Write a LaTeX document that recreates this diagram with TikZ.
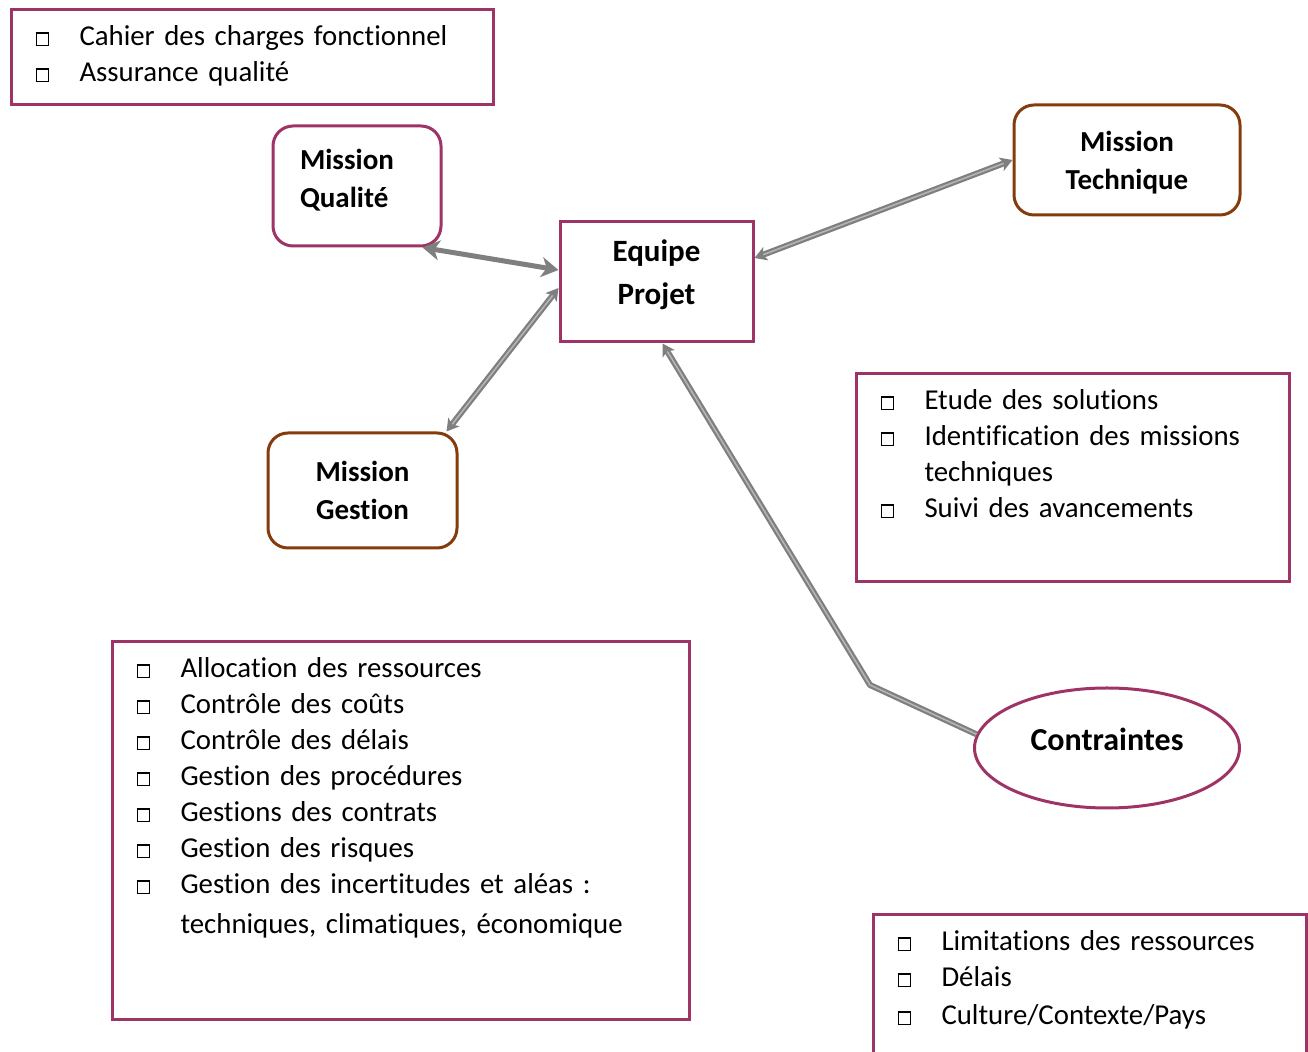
\documentclass[tikz,border=0pt]{standalone}
\usepackage{fontspec}
\setmainfont{Carlito}[Ligatures=NoCommon]
\usetikzlibrary{arrows.meta,positioning,calc,shapes.geometric}
\definecolor{Prune}{HTML}{9E3366}
\definecolor{Brique}{HTML}{843C0C}
\definecolor{Fleche}{HTML}{7F7F7F}
\definecolor{FlecheClair}{HTML}{B4B4B4}
\newcommand{\carre}{\raisebox{0.4pt}{\setlength{\fboxsep}{0pt}\setlength{\fboxrule}{0.7pt}\fbox{\rule{0pt}{5.4pt}\rule{5.4pt}{0pt}}}}

\begin{document}
\begin{tikzpicture}[x=0.5pt, y=-0.5pt,
		liste/.style={draw=Prune, line width=1.5pt, anchor=north west, inner xsep=12pt, inner ysep=0pt, text height=18pt, align=left, font=\fontsize{14.4}{18}\selectfont},
		mission/.style={draw=Brique, rounded corners=10pt, line width=1.5pt, inner sep=0pt, align=center, font=\fontsize{14.5}{19}\selectfont\bfseries},
		arr/.style={Fleche, line width=1.1pt, double=FlecheClair, double distance=0.8pt, >={Stealth[length=6pt,width=7pt,inset=1.5pt]}},
		arrplein/.style={Fleche, line width=2.5pt, >={Stealth[length=8.5pt,width=10pt,inset=2.5pt]}}]
		\clip (0,0) rectangle (1308,1052);
		\node[liste, text width=217pt, text depth=29.5pt] (cdc) at (10,8) {\begin{tabular}[t]{@{}p{22pt}@{}l@{}}
				\carre & Cahier des charges fonctionnel\\
				\carre & Assurance qualité
			\end{tabular}};
		\node[mission, draw=Prune, minimum width=84pt, minimum height=60pt, text width=57pt, align=left, text depth=27pt] (qual) at (357,186) {Mission\\Qualité};
		\node[draw=Prune, line width=1.5pt, minimum width=96.5pt, minimum height=60pt, inner sep=0pt, align=center, text depth=10pt, font=\fontsize{15.5}{21.5}\selectfont\bfseries] (equipe) at (656.5,282) {Equipe\\Projet};
		\node[mission, minimum width=113pt, minimum height=55pt, text height=31.3pt] (tech) at (1127,160) {Mission\\Technique};
		\node[mission, minimum width=94.5pt, minimum height=57.5pt] (gest) at (362.5,490.5) {Mission\\Gestion};
		\node[ellipse, draw=Prune, line width=1.5pt, minimum width=132.5pt, minimum height=60pt, inner sep=0pt, text depth=9pt, font=\fontsize{16}{19}\selectfont\bfseries] (contr) at (1107,748) {Contraintes};
		\node[liste, text width=192.5pt, text depth=86pt] (sol) at (855,372) {\begin{tabular}[t]{@{}p{22pt}@{}l@{}}
				\carre & Etude des solutions\\
				\carre & Identification des missions\\
				& techniques\\
				\carre & Suivi des avancements
			\end{tabular}};
		\node[liste, text width=264.5pt, text depth=171pt] (ges) at (111,640) {\begin{tabular}[t]{@{}p{22pt}@{}l@{}}
				\carre & Allocation des ressources\\
				\carre & Contrôle des coûts\\
				\carre & Contrôle des délais\\
				\carre & Gestion des procédures\\
				\carre & Gestions des contrats\\
				\carre & Gestion des risques\\
				\carre & Gestion des incertitudes et aléas :\\[2pt]
				& techniques, climatiques, économique
			\end{tabular}};
		\node[liste, text width=192.5pt, text depth=60pt] (lim) at (872,913) {\begin{tabular}[t]{@{}p{22pt}@{}l@{}}
				\carre & Limitations des ressources\\
				\carre & Délais\\[1pt]
				\carre & Culture/Contexte/Pays
			\end{tabular}};
		\coordinate (coude) at (870,685);
		\draw[arrplein, <->] ([xshift=-10pt]qual.south east) -- ([yshift=6pt]equipe.west);
		\draw[arr, <->] (tech.west) -- ([yshift=12pt]equipe.east);
		\draw[arr, <->] ([xshift=-6pt]gest.north east) -- ([yshift=-3pt]equipe.west);
		\draw[arr, ->] (contr.174) -- (coude) -- ([xshift=3pt]equipe.south);
	\end{tikzpicture}
\end{document}
